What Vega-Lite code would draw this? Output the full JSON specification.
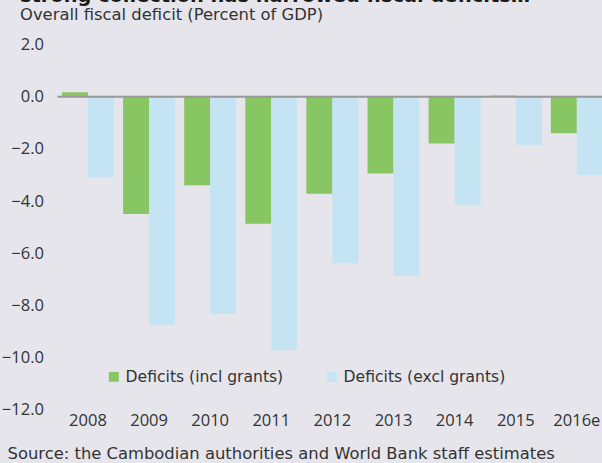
{
  "$schema": "https://vega.github.io/schema/vega-lite/v6.json",
  "autosize": "none",
  "padding": {"left": 57.4, "top": 44.7, "right": 0, "bottom": 53.6},
  "width": 550,
  "height": 364.7,
  "background": "#E6E5EB",
  "config": {
    "view": {"stroke": null},
    "font": "DejaVu Sans"
  },
  "title": {
    "text": "strong collection has narrowed fiscal deficits…",
    "subtitle": "Overall fiscal deficit (Percent of GDP)",
    "anchor": "start",
    "frame": "group",
    "dx": -37.4,
    "offset": 12,
    "font": "DejaVu Sans",
    "fontSize": 19.4,
    "fontWeight": "bold",
    "color": "#1a1a1a",
    "subtitleFont": "DejaVu Sans",
    "subtitleFontSize": 16.4,
    "subtitleColor": "#333333",
    "subtitlePadding": 1
  },
  "data": {
    "values": [
      {"year": "2008", "series": "Deficits (incl grants)", "value": 0.17},
      {"year": "2008", "series": "Deficits (excl grants)", "value": -3.1},
      {"year": "2009", "series": "Deficits (incl grants)", "value": -4.5},
      {"year": "2009", "series": "Deficits (excl grants)", "value": -8.75},
      {"year": "2010", "series": "Deficits (incl grants)", "value": -3.4},
      {"year": "2010", "series": "Deficits (excl grants)", "value": -8.34},
      {"year": "2011", "series": "Deficits (incl grants)", "value": -4.87},
      {"year": "2011", "series": "Deficits (excl grants)", "value": -9.73},
      {"year": "2012", "series": "Deficits (incl grants)", "value": -3.72},
      {"year": "2012", "series": "Deficits (excl grants)", "value": -6.39},
      {"year": "2013", "series": "Deficits (incl grants)", "value": -2.94},
      {"year": "2013", "series": "Deficits (excl grants)", "value": -6.87},
      {"year": "2014", "series": "Deficits (incl grants)", "value": -1.79},
      {"year": "2014", "series": "Deficits (excl grants)", "value": -4.15},
      {"year": "2015", "series": "Deficits (incl grants)", "value": 0.05},
      {"year": "2015", "series": "Deficits (excl grants)", "value": -1.85},
      {"year": "2016e", "series": "Deficits (incl grants)", "value": -1.4},
      {"year": "2016e", "series": "Deficits (excl grants)", "value": -3.0}
    ]
  },
  "layer": [
    {
      "mark": {"type": "bar", "clip": true},
      "encoding": {
        "x": {
          "field": "year",
          "type": "nominal",
          "scale": {"paddingInner": 0.149, "paddingOuter": 0.0745},
          "axis": {
            "title": "Source: the Cambodian authorities and World Bank staff estimates",
            "titleFont": "DejaVu Sans",
            "titleFontSize": 16.4,
            "titleFontWeight": "normal",
            "titleColor": "#333333",
            "titleAnchor": "start",
            "titleAlign": "left",
            "titleBaseline": "middle",
            "titleX": -50.4,
            "titleY": 44.6,
            "labelAngle": 0,
            "labelFont": "Open Sans",
            "labelFontSize": 16.5,
            "labelColor": "#333333",
            "labelPadding": 3,
            "domain": false,
            "ticks": false,
            "grid": false
          }
        },
        "xOffset": {
          "field": "series",
          "type": "nominal",
          "sort": ["Deficits (incl grants)", "Deficits (excl grants)"],
          "scale": {"paddingInner": 0, "paddingOuter": 0}
        },
        "y": {
          "field": "value",
          "type": "quantitative",
          "scale": {"domain": [-12, 2], "nice": false, "zero": false},
          "axis": {
            "title": null,
            "values": [2, 0, -2, -4, -6, -8, -10, -12],
            "format": ".1f",
            "labelFont": "Open Sans",
            "labelFontSize": 16.5,
            "labelColor": "#333333",
            "labelPadding": 14,
            "domain": false,
            "ticks": false,
            "grid": false
          }
        },
        "color": {
          "field": "series",
          "type": "nominal",
          "sort": ["Deficits (incl grants)", "Deficits (excl grants)"],
          "scale": {"range": ["#88C664", "#C4E3F3"]},
          "legend": {
            "title": null,
            "orient": "none",
            "legendX": 48.6,
            "legendY": 324,
            "direction": "horizontal",
            "columns": 2,
            "columnPadding": 40,
            "symbolType": "square",
            "symbolSize": 100,
            "symbolStrokeWidth": 0,
            "symbolOpacity": 1,
            "labelOffset": 4,
            "labelFont": "DejaVu Sans",
            "labelFontSize": 15.6,
            "labelColor": "#333333",
            "labelLimit": 300
          }
        }
      }
    },
    {
      "data": {"values": [{"v": 0}]},
      "mark": {"type": "rule", "color": "#999999", "strokeWidth": 2},
      "encoding": {"y": {"field": "v", "type": "quantitative"}}
    }
  ]
}
